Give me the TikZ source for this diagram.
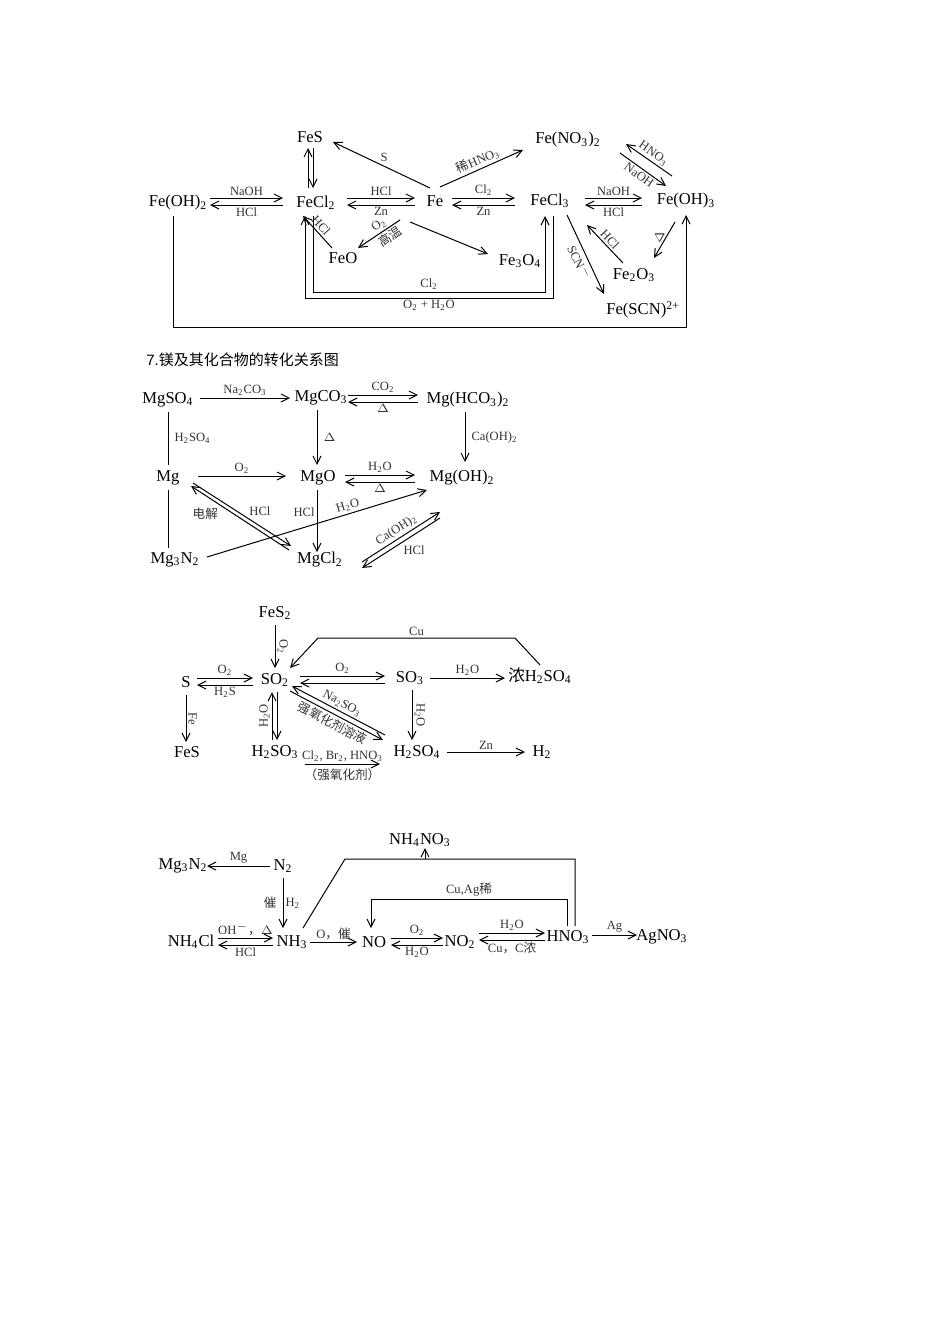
\documentclass[tikz,border=0pt]{standalone}
\usepackage{fontspec}
\setmainfont{Liberation Serif}
\newfontfamily\cjk{Noto Sans CJK SC}
\newfontfamily\sfx{Liberation Sans}
\usetikzlibrary{arrows.meta,calc}
\newcommand\sub[1]{\textsubscript{#1}}
\tikzset{
 ar/.style={-{Straight Barb[length=4pt,width=4pt]},line width=0.5pt},
 ln/.style={line width=0.5pt},
 cp/.style={font=\fontsize{8.3}{9}\selectfont,inner sep=1pt},
 lb/.style={font=\fontsize{6.3}{7}\selectfont,inner sep=1pt,text=black!80},
}
\begin{document}
\begin{tikzpicture}[x=0.5pt,y=-0.5pt]
\useasboundingbox (0,0) rectangle (950,1344);
% ---------- Fe
\node[cp] (fes) at (310,137) {FeS};
\node[cp] (feoh2) at (178,203) {Fe(OH)\sub{2}};
\node[cp] (fecl2) at (316,203) {FeCl\sub{2}};
\node[cp] (fe) at (435,201) {Fe};
\node[cp] (fecl3) at (550,201) {FeCl\sub{3}};
\node[cp] (feoh3) at (686,201) {Fe(OH)\sub{3}};
\node[cp] (feno3) at (568,140) {Fe(NO\sub{3})\sub{2}};
\node[cp] (feo) at (343,258) {FeO};
\node[cp] (fe3o4) at (520,261) {Fe\sub{3}O\sub{4}};
\node[cp] (fe2o3) at (634,275) {Fe\sub{2}O\sub{3}};
\node[cp] (fescn) at (643,310) {Fe(SCN)\textsuperscript{2+}};
\draw[ar] (210,198) -- node[lb,above]{NaOH} (283,198);
\draw[ar] (283,205) -- node[lb,below]{HCl} (210,205);
\draw[ar] (347,198) -- node[lb,above]{HCl} (415,198);
\draw[ar] (415,205) -- node[lb,below]{Zn} (347,205);
\draw[ar] (452,198) -- node[lb,above]{Cl\sub{2}} (515,198);
\draw[ar] (515,205) -- node[lb,below]{Zn} (452,205);
\draw[ar] (585,198) -- node[lb,above]{NaOH} (642,198);
\draw[ar] (642,205) -- node[lb,below]{HCl} (585,205);
\draw[ar] (308,188) -- (308,148);
\draw[ar] (313,148) -- (313,188);
\draw[ar] (430,188) -- (333,142);
\node[lb] (slab) at (384,157) {S};
\draw[ar] (440,187) -- node[lb,sloped,above]{{\cjk 稀}HNO\sub{3}} (523,150);
\draw[ar] (672,176) -- node[lb,sloped,above]{HNO\sub{3}} (626,144);
\draw[ar] (620,153) -- node[lb,sloped,below]{NaOH} (666,186);
\draw[ar] (400,220) -- node[lb,sloped,above,pos=0.4]{O\sub{2}} node[lb,sloped,below,pos=0.35]{\cjk 高温} (358,248);
\draw[ar] (332,248) -- node[lb,sloped,above,pos=0.55]{HCl} (303,216);
\draw[ar] (410,222) -- (488,254);
\draw[ar] (567,215) -- node[lb,sloped,below,pos=0.55]{SCN\textsuperscript{$-$}} (604,294);
\draw[ar] (623,263) -- node[lb,sloped,above]{HCl} (587,225);
\draw[ar] (675,222) -- node[lb,sloped,above]{$\Delta$} (654,258);
\draw[ar] (313,216) -- (313,292) -- node[lb,above]{Cl\sub{2}} (545,292) -- (545,216);
\draw[ar] (553,216) -- (553,298) -- node[lb,below]{O\sub{2} + H\sub{2}O} (305,298) -- (305,216);
\draw[ar] (173,216) -- (173,327) -- (686,327) -- (686,215);
% ---------- Mg
\node[anchor=west,font=\fontsize{7.5}{9}\selectfont,inner sep=0pt] (ttl) at (146,360) {{\sfx 7.}{\cjk 镁及其化合物的转化关系图}};
\node[cp] (mgso4) at (168,400) {MgSO\sub{4}};
\node[cp] (mgco3) at (321,398) {MgCO\sub{3}};
\node[cp] (mghco3) at (468,400) {Mg(HCO\sub{3})\sub{2}};
\node[cp] (mg) at (168,478) {Mg};
\node[cp] (mgo) at (318,478) {MgO};
\node[cp] (mgoh2) at (462,478) {Mg(OH)\sub{2}};
\node[cp] (mg3n2) at (175,560) {Mg\sub{3}N\sub{2}};
\node[cp] (mgcl2) at (320,560) {MgCl\sub{2}};
\draw[ar] (200,398) -- node[lb,above]{Na\sub{2}CO\sub{3}} (290,398);
\draw[ar] (348,395) -- node[lb,above]{CO\sub{2}} (418,395);
\draw[ar] (418,402) -- node[lb,below]{$\Delta$} (348,402);
\draw[ln] (168,412) -- node[lb,right,xshift=2pt]{H\sub{2}SO\sub{4}} (168,465);
\draw[ln] (168,490) -- (168,548);
\draw[ar] (317,410) -- node[lb,right,xshift=2pt]{$\Delta$} (317,465);
\draw[ar] (465,412) -- node[lb,right,xshift=2pt]{Ca(OH)\sub{2}} (465,462);
\draw[ar] (198,476) -- node[lb,above]{O\sub{2}} (286,476);
\draw[ar] (345,475) -- node[lb,above]{H\sub{2}O} (415,475);
\draw[ar] (415,482) -- node[lb,below]{$\Delta$} (345,482);
\draw[ar] (317,490) -- node[lb,left,pos=0.35]{HCl} (317,552);
\draw[ar] (207,557) -- node[lb,sloped,above,pos=0.65]{H\sub{2}O} (427,490);
\draw[ar] (289,550) -- node[lb,below left,pos=0.7]{\cjk 电解} (191,486);
\draw[ar] (193,483) -- node[lb,above right,pos=0.55]{HCl} (291,546);
\draw[ar] (362,562) -- node[lb,sloped,above]{Ca(OH)\sub{2}} (440,512);
\draw[ar] (440,518) -- node[lb,below right]{HCl} (362,568);
% ---------- S
\node[cp] (fes2) at (275,613) {FeS\sub{2}};
\node[cp] (s) at (186,682) {S};
\node[cp] (so2) at (275,680) {SO\sub{2}};
\node[cp] (so3) at (410,678) {SO\sub{3}};
\node[cp] (h2so4c) at (540,676) {{\cjk 浓}H\sub{2}SO\sub{4}};
\node[cp] (fesb) at (187,752) {FeS};
\node[cp] (h2so3) at (275,752) {H\sub{2}SO\sub{3}};
\node[cp] (h2so4) at (417,752) {H\sub{2}SO\sub{4}};
\node[cp] (h2) at (542,752) {H\sub{2}};
\draw[ar] (275,625) -- node[lb,sloped,above]{O\sub{2}} (275,668);
\draw[ar] (197,678) -- node[lb,above]{O\sub{2}} (253,678);
\draw[ar] (253,685) -- node[lb,below]{H\sub{2}S} (197,685);
\draw[ar] (300,676) -- node[lb,above]{O\sub{2}} (385,676);
\draw[ar] (385,683) -- (300,683);
\draw[ar] (430,678) -- node[lb,above]{H\sub{2}O} (505,678);
\draw[ar] (540,665) -- (515,638) -- node[lb,above]{Cu} (318,638) -- (290,668);
\draw[ar] (186,695) -- node[lb,sloped,above]{Fe} (186,742);
\draw[ar] (272,740) -- node[lb,sloped,above]{H\sub{2}O} (272,692);
\draw[ar] (277,692) -- (277,740);
\draw[ar] (385,735) -- node[lb,sloped,above]{Na\sub{2}SO\sub{3}} (292,686);
\draw[ar] (290,691) -- node[lb,sloped,below]{\cjk 强氧化剂溶液} (383,740);
\draw[ar] (412,690) -- node[lb,sloped,above]{H\sub{2}O} (412,740);
\draw[ar] (305,764) -- node[lb,above]{Cl\sub{2}, Br\sub{2}, HNO\sub{3}} node[lb,below,yshift=-1pt]{\cjk （强氧化剂）} (380,764);
\draw[ar] (447,752) -- node[lb,above]{Zn} (525,752);
% ---------- N
\node[cp] (mg3n2b) at (183,866) {Mg\sub{3}N\sub{2}};
\node[cp] (n2) at (283,866) {N\sub{2}};
\node[cp] (nh4no3) at (420,840) {NH\sub{4}NO\sub{3}};
\node[cp] (nh4cl) at (191,942) {NH\sub{4}Cl};
\node[cp] (nh3) at (292,942) {NH\sub{3}};
\node[cp] (no) at (374,942) {NO};
\node[cp] (no2) at (460,942) {NO\sub{2}};
\node[cp] (hno3) at (568,937) {HNO\sub{3}};
\node[cp] (agno3) at (662,937) {AgNO\sub{3}};
\draw[ar] (270,866) -- node[lb,above]{Mg} (207,866);
\draw[ar] (283,878) -- node[lb,left,xshift=-2pt]{\cjk 催} node[lb,right]{H\sub{2}} (283,928);
\draw[ar] (218,938) -- node[lb,above]{OH\textsuperscript{$-$}{\cjk ，}$\Delta$} (273,938);
\draw[ar] (273,945) -- node[lb,below]{HCl} (218,945);
\draw[ar] (310,942) -- node[lb,above]{O{\cjk ，催}} (357,942);
\draw[ar] (391,938) -- node[lb,above]{O\sub{2}} (443,938);
\draw[ar] (443,945) -- node[lb,below]{H\sub{2}O} (391,945);
\draw[ar] (479,933) -- node[lb,above]{H\sub{2}O} (545,933);
\draw[ar] (545,940) -- node[lb,below]{Cu{\cjk ，}C{\cjk 浓}} (479,940);
\draw[ar] (592,935) -- node[lb,above]{Ag} (637,935);
\draw[ln] (303,928) -- (345,859) -- (575,859) -- (575,926);
\draw[ar] (425,859) -- (425,848);
\draw[ar] (567,926) -- (567,899) -- node[lb,above]{Cu,Ag{\cjk 稀}} (371,899) -- (371,928);
\end{tikzpicture}
\end{document}
